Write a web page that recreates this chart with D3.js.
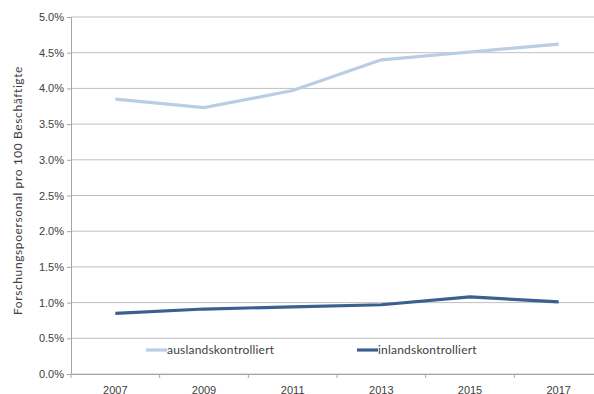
<!DOCTYPE html>
<html>
<head>
<meta charset="utf-8">
<script src="https://cdn.jsdelivr.net/npm/d3@7"></script>
<style>
  body { margin: 0; background: #fff; }
  svg { display: block; font-family: "Century Gothic", "Lato", "DejaVu Sans", sans-serif; }
</style>
</head>
<body>
<svg id="chart" width="594" height="394"></svg>
<script>
const years = ["2007", "2009", "2011", "2013", "2015", "2017"];
const auslands = [3.85, 3.73, 3.97, 4.40, 4.51, 4.62];
const inlands = [0.85, 0.91, 0.94, 0.97, 1.08, 1.01];
const yTicks = [0, 0.5, 1, 1.5, 2, 2.5, 3, 3.5, 4, 4.5, 5];
const seriesNames = ["auslandskontrolliert", "inlandskontrolliert"];

const svg = d3.select("#chart");
const plot = { left: 71, right: 603, top: 17, bottom: 374 };

const x = d3.scaleBand().domain(years).range([plot.left, plot.right]);
const y = d3.scaleLinear().domain([0, 5]).range([plot.bottom, plot.top]);

// gridlines
svg.append("g")
  .selectAll("line")
  .data(yTicks)
  .join("line")
  .attr("x1", plot.left).attr("x2", plot.right)
  .attr("y1", d => y(d)).attr("y2", d => y(d))
  .attr("stroke", "#c0c0c0").attr("stroke-width", 1);

// y axis
const yAxis = svg.append("g")
  .attr("transform", `translate(${plot.left},0)`)
  .call(d3.axisLeft(y).tickValues(yTicks).tickSize(4).tickFormat(d => d.toFixed(1) + "%"));
yAxis.select(".domain").attr("stroke", "#a6a6a6");
yAxis.selectAll(".tick line").attr("stroke", "#a6a6a6");
yAxis.selectAll("text").attr("fill", "#404040").style("font-size", "11px").attr("x", -7);

// x axis
const xAxis = svg.append("g")
  .attr("transform", `translate(0,${plot.bottom})`)
  .call(d3.axisBottom(x).tickSize(0).tickSizeOuter(0));
xAxis.select(".domain").attr("stroke", "#a6a6a6");
xAxis.selectAll("text").attr("fill", "#404040").style("font-size", "11px").attr("dy", "1.5em");
svg.append("g")
  .selectAll("line")
  .data(years)
  .join("line")
  .attr("x1", d => x(d)).attr("x2", d => x(d))
  .attr("y1", plot.bottom).attr("y2", plot.bottom + 4)
  .attr("stroke", "#a6a6a6");

// y title
svg.append("text")
  .attr("transform", `translate(22,190.5) rotate(-90)`)
  .attr("text-anchor", "middle")
  .attr("fill", "#404040")
  .style("font-size", "12px")
  .style("letter-spacing", "0.6px")
  .text("Forschungspoersonal pro 100 Beschäftigte");

const line = d3.line()
  .x((d, i) => x(years[i]) + x.bandwidth() / 2)
  .y(d => y(d));

const colors = ["#b9cde5", "#3b6090"];

svg.append("path").datum(auslands)
  .attr("d", line).attr("fill", "none")
  .attr("stroke", colors[0]).attr("stroke-width", 3.2);
svg.append("path").datum(inlands)
  .attr("d", line).attr("fill", "none")
  .attr("stroke", colors[1]).attr("stroke-width", 3.2);

// legend
const legendX = [146, 357];
const legend = svg.selectAll(".legend")
  .data(seriesNames)
  .join("g")
  .attr("class", "legend")
  .attr("transform", (d, i) => `translate(${legendX[i]},350)`);
legend.append("line")
  .attr("x1", 0).attr("x2", 21)
  .attr("stroke", (d, i) => colors[i]).attr("stroke-width", 3.2);
legend.append("text")
  .attr("x", 21).attr("dy", "0.35em")
  .attr("fill", "#404040")
  .style("font-size", "12px")
  .style("letter-spacing", "0.2px")
  .text(d => d);
</script>
</body>
</html>
